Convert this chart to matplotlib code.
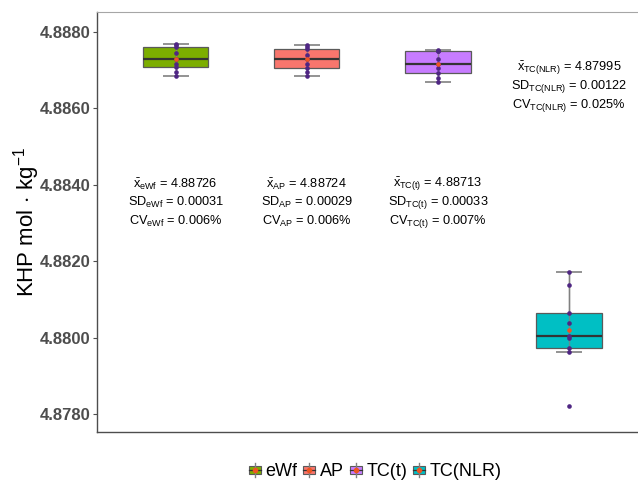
import matplotlib
matplotlib.use("Agg")
import matplotlib.pyplot as plt
from matplotlib.patches import Rectangle, Patch
from matplotlib.lines import Line2D
from matplotlib.legend_handler import HandlerBase
from matplotlib.cbook import boxplot_stats
import numpy as np

plt.rcParams["font.family"] = ["Liberation Sans", "DejaVu Sans"]
plt.rcParams["mathtext.fontset"] = "custom"
plt.rcParams["mathtext.rm"] = "Liberation Sans"
plt.rcParams["mathtext.it"] = "Liberation Sans:italic"
plt.rcParams["mathtext.bf"] = "Liberation Sans:bold"

# KHP mass fraction results per method (mol/kg)
methods = ["eWf", "AP", "TC(t)", "TC(NLR)"]
ewf = [4.88683, 4.88695, 4.88707, 4.88716, 4.88729, 4.88745, 4.88759, 4.88765, 4.88769]
ap = [4.88685, 4.88695, 4.88706, 4.88716, 4.88729, 4.88740, 4.88756, 4.88760, 4.88764]
tc_t = [4.88668, 4.88680, 4.88692, 4.88704, 4.88716, 4.88730, 4.88749, 4.88750, 4.88752]
tc_nlr = [4.87822, 4.87964, 4.87974, 4.88000, 4.88005, 4.88039, 4.88064, 4.88138, 4.88173]

# summary statistics printed next to each box
mean_labels = ["4.88726", "4.88724", "4.88713", "4.87995"]
sd_labels = ["0.00031", "0.00029", "0.00033", "0.00122"]
cv_labels = ["0.006%", "0.006%", "0.007%", "0.025%"]

y_ticks = [4.8780, 4.8800, 4.8820, 4.8840, 4.8860, 4.8880]

colors = ["#7CAE00", "#F8766D", "#C77CFF", "#00BFC4"]
point_color = "#4F2683"
mean_color = "#EE5522"

data = [ewf, ap, tc_t, tc_nlr]
positions = np.arange(1, len(methods) + 1)

fig = plt.figure(figsize=(6.38, 4.84), dpi=100)
ax = fig.add_axes([0.152, 0.1074, 0.863, 0.8684])

stats = boxplot_stats(data, whis=1.5)
bp = ax.bxp(stats, positions=positions, widths=0.5, patch_artist=True,
            showfliers=False, showcaps=False, manage_ticks=False,
            boxprops=dict(edgecolor="#5A5A5A", linewidth=0.9),
            medianprops=dict(color="#333333", linewidth=1.6),
            whiskerprops=dict(color="#808080", linewidth=1.0))
for patch, c in zip(bp["boxes"], colors):
    patch.set_facecolor(c)
    patch.set_zorder(2)

# error-bar style whiskers drawn across the full range, with caps
for pos, st in zip(positions, stats):
    ax.vlines(pos, st["whislo"], st["whishi"], color="#808080", lw=1.0, alpha=0.8, zorder=3)
    ax.hlines([st["whislo"], st["whishi"]], pos - 0.1, pos + 0.1, color="#808080", lw=1.2, zorder=3)

for pos, vals in zip(positions, data):
    ax.scatter(np.full(len(vals), pos), vals, s=11, color=point_color, zorder=4, linewidths=0)
    ax.scatter([pos], [np.mean(vals)], s=11, color=mean_color, zorder=5, linewidths=0)

# statistics annotations
label_top = [4.88402, 4.88402, 4.88402, 4.88705]
line_step = 0.000490
for i, m in enumerate(methods):
    sub = r"_{\mathrm{" + m + "}}"
    lines = [
        r"$\bar{\mathrm{x}}" + sub + "$ = " + mean_labels[i],
        r"$\mathrm{SD}" + sub + "$ = " + sd_labels[i],
        r"$\mathrm{CV}" + sub + "$ = " + cv_labels[i],
    ]
    for j, t in enumerate(lines):
        ax.text(positions[i], label_top[i] - j * line_step, t, ha="center", va="center",
                fontsize=9.2, color="black")

ax.set_xlim(0.4, 4.6)
ax.set_ylim(4.877537, 4.888523)
ax.set_xticks([])
ax.set_yticks(y_ticks)
ax.set_yticklabels([f"{v:.4f}" for v in y_ticks], fontsize=12, fontweight="bold", color="#4D4D4D")
ax.tick_params(axis="y", length=3, width=0.8, color="#4D4D4D", pad=2)
ax.set_ylabel(r"KHP mol$\,\cdot\,$kg$^{-1}$", fontsize=16, labelpad=-2)

for side in ["left", "bottom"]:
    ax.spines[side].set_color("#4D4D4D")
    ax.spines[side].set_linewidth(1.0)
ax.spines["top"].set_color("#A6A6A6")
ax.spines["right"].set_color("#A6A6A6")


class BoxKey(HandlerBase):
    def create_artists(self, legend, orig_handle, xdescent, ydescent, width, height, fontsize, trans):
        x0, y0 = -xdescent, -ydescent
        cx, cy = x0 + width / 2, y0 + height / 2
        bw, bh = width * 0.95, height * 0.62
        rect = Rectangle((cx - bw / 2, cy - bh / 2), bw, bh, facecolor=orig_handle.get_facecolor(),
                         edgecolor="#5A5A5A", lw=0.8, transform=trans)
        whisk = Line2D([cx, cx], [y0, y0 + height], color="#808080", lw=1.0, transform=trans)
        med = Line2D([cx - bw / 2, cx + bw / 2], [cy, cy], color="#333333", lw=0.9, transform=trans)
        dot = Line2D([cx], [cy], marker="o", ms=3, color=mean_color, lw=0, transform=trans)
        return [rect, whisk, med, dot]


handles = [Patch(facecolor=c) for c in colors]
fig.legend(handles, methods, handler_map={Patch: BoxKey()}, loc="center",
           bbox_to_anchor=(0.588, 0.025), ncol=4, frameon=False, fontsize=13,
           handlelength=0.7, handleheight=0.8, handletextpad=0.25, columnspacing=0.3)

fig.savefig("out.png", dpi=100)
